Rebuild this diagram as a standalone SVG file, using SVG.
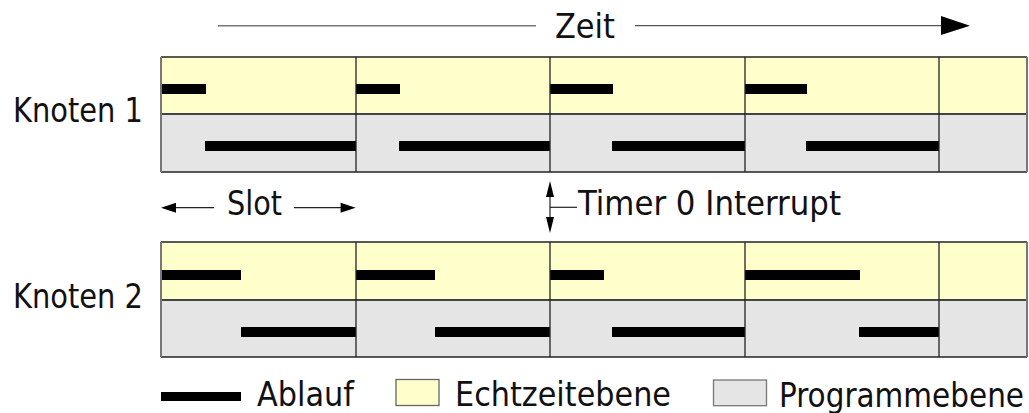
<svg xmlns="http://www.w3.org/2000/svg" width="1029" height="413" viewBox="0 0 1029 413">
  <style>
    .lbl { font-family: "DejaVu Sans Condensed", "DejaVu Sans", sans-serif; font-size: 33px; fill: #111; }
    .rt { fill: #FFFFCC; }
    .pg { fill: #E5E5E5; }
    .div { stroke: #222; stroke-width: 1.3; fill: none; }
    .mid { stroke: #444; stroke-width: 2; fill: none; }
    .edge { stroke: #777; stroke-width: 2; fill: none; }
    .run { fill: #000; }
    .thin { stroke: #222; stroke-width: 1.2; fill: none; }
    .head { fill: #000; }
  </style>

  <!-- time axis -->
  <g id="zeit">
    <line x1="218" y1="25.7" x2="536" y2="25.7" stroke="#777" stroke-width="1.6"/>
    <text class="lbl" x="555" y="38.3" textLength="60" lengthAdjust="spacingAndGlyphs">Zeit</text>
    <line x1="635" y1="25.7" x2="944" y2="25.7" stroke="#555" stroke-width="1.2"/>
    <polygon class="head" points="941,16 970,25.7 941,35"/>
  </g>

  <!-- node 1 -->
  <g id="knoten1">
    <text class="lbl" x="13" y="122.3" textLength="130" lengthAdjust="spacingAndGlyphs">Knoten 1</text>
    <rect class="rt" x="161" y="57" width="866" height="57"/>
    <rect class="pg" x="161" y="114" width="866" height="58"/>
    <rect class="run" x="161" y="84" width="45" height="10"/>
    <rect class="run" x="205" y="141" width="151" height="10"/>
    <rect class="run" x="356" y="84" width="44" height="10"/>
    <rect class="run" x="399" y="141" width="151" height="10"/>
    <rect class="run" x="550" y="84" width="63" height="10"/>
    <rect class="run" x="612" y="141" width="133" height="10"/>
    <rect class="run" x="745" y="84" width="62" height="10"/>
    <rect class="run" x="806" y="141" width="133" height="10"/>
    <line class="div" x1="161" y1="57" x2="1027" y2="57"/>
    <line class="mid" x1="161" y1="114" x2="1027" y2="114"/>
    <line class="div" x1="161" y1="172" x2="1027" y2="172"/>
    <line class="div" x1="356" y1="57" x2="356" y2="172"/>
    <line class="div" x1="550" y1="57" x2="550" y2="172"/>
    <line class="div" x1="745" y1="57" x2="745" y2="172"/>
    <line class="div" x1="939" y1="57" x2="939" y2="172"/>
    <line class="edge" x1="161" y1="57" x2="161" y2="172"/>
    <line class="edge" x1="1027" y1="57" x2="1027" y2="172"/>
  </g>

  <!-- node 2 -->
  <g id="knoten2">
    <text class="lbl" x="13" y="307.6" textLength="130" lengthAdjust="spacingAndGlyphs">Knoten 2</text>
    <rect class="rt" x="161" y="242" width="866" height="58"/>
    <rect class="pg" x="161" y="300" width="866" height="57"/>
    <rect class="run" x="161" y="270" width="80" height="10"/>
    <rect class="run" x="241" y="327" width="115" height="10"/>
    <rect class="run" x="356" y="270" width="79" height="10"/>
    <rect class="run" x="435" y="327" width="115" height="10"/>
    <rect class="run" x="550" y="270" width="54" height="10"/>
    <rect class="run" x="612" y="327" width="133" height="10"/>
    <rect class="run" x="745" y="270" width="115" height="10"/>
    <rect class="run" x="859" y="327" width="80" height="10"/>
    <line class="div" x1="161" y1="242" x2="1027" y2="242"/>
    <line class="mid" x1="161" y1="300" x2="1027" y2="300"/>
    <line class="div" x1="161" y1="357" x2="1027" y2="357"/>
    <line class="div" x1="356" y1="242" x2="356" y2="357"/>
    <line class="div" x1="550" y1="242" x2="550" y2="357"/>
    <line class="div" x1="745" y1="242" x2="745" y2="357"/>
    <line class="div" x1="939" y1="242" x2="939" y2="357"/>
    <line class="edge" x1="161" y1="242" x2="161" y2="357"/>
    <line class="edge" x1="1027" y1="242" x2="1027" y2="357"/>
  </g>

  <!-- slot width and timer interrupt markers -->
  <g id="connectors">
    <line class="thin" x1="170" y1="207.7" x2="214" y2="207.7"/>
    <polygon class="head" points="161,207.7 176,202.7 176,212.7"/>
    <text class="lbl" x="227" y="215" textLength="55" lengthAdjust="spacingAndGlyphs">Slot</text>
    <line class="thin" x1="294" y1="207.7" x2="346" y2="207.7"/>
    <polygon class="head" points="355.6,207.7 340.6,202.7 340.6,212.7"/>

    <line class="thin" x1="550" y1="190" x2="550" y2="224"/>
    <polygon class="head" points="550,181 546,197 554,197"/>
    <polygon class="head" points="550,233 546,217 554,217"/>
    <line class="thin" x1="550" y1="207.3" x2="577" y2="207.3"/>
    <text class="lbl" x="578" y="215" textLength="263" lengthAdjust="spacingAndGlyphs">Timer 0 Interrupt</text>
  </g>

  <!-- legend -->
  <g id="legend">
    <rect class="run" x="161" y="392" width="80" height="9"/>
    <text class="lbl" x="257" y="405.7" textLength="97" lengthAdjust="spacingAndGlyphs">Ablauf</text>
    <rect class="rt" x="396" y="379.5" width="43" height="26" stroke="#666" stroke-width="1.3"/>
    <text class="lbl" x="455" y="405.7" textLength="216" lengthAdjust="spacingAndGlyphs">Echtzeitebene</text>
    <rect class="pg" x="713.5" y="380" width="53" height="25.7" stroke="#777" stroke-width="1.3"/>
    <text class="lbl" x="779" y="406.7" textLength="245" lengthAdjust="spacingAndGlyphs">Programmebene</text>
  </g>
</svg>
